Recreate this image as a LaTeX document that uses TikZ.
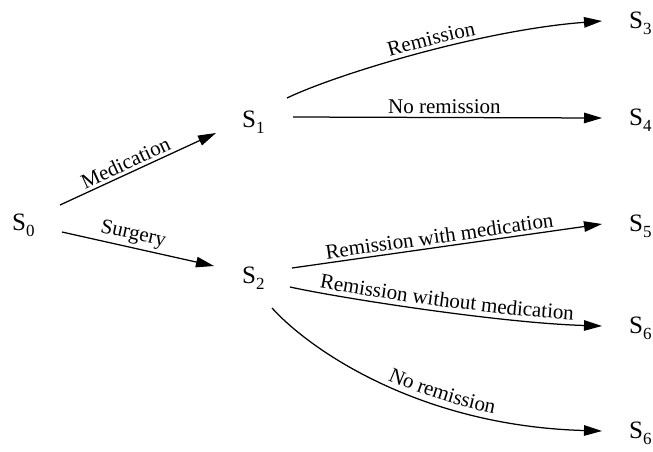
\documentclass[tikz,border=0pt]{standalone}
\usepackage{fontspec}
\setmainfont{Liberation Serif}
\usetikzlibrary{arrows.meta,decorations.text}

\newcommand{\statefont}{\fontsize{25}{25}\selectfont}
\newcommand{\lblfont}{\fontsize{21}{21}\selectfont}
\newcommand{\st}[1]{S\raisebox{-6.5pt}{\fontsize{17}{17}\selectfont #1}}

\tikzset{
  state/.style={font=\statefont, inner sep=0pt, anchor=base west},
  trans/.style={line width=1.25pt, -{Triangle[length=18pt,width=10.5pt]}},
  lbl/.style={font=\lblfont, sloped, above, inner sep=3pt},
  curvelbl/.style 2 args={postaction={decorate}, decoration={text along path,
      text={|\lblfont|#1}, text align={align=center, #2}, raise=5pt}}
}

\begin{document}
\begin{tikzpicture}[x=1pt, y=-1pt]
  \useasboundingbox (0,0) rectangle (653,451);

  % states
  \node[state] (s0) at (12,230) {\st{0}};
  \node[state] (s1) at (242,127) {\st{1}};
  \node[state] (s2) at (242,283) {\st{2}};
  \node[state] (s3) at (629,28)  {\st{3}};
  \node[state] (s4) at (629,125) {\st{4}};
  \node[state] (s5) at (629,231) {\st{5}};
  \node[state] (s6a) at (629,333) {\st{6}};
  \node[state] (s6b) at (629,438) {\st{6}};

  % first decision
  \draw[trans] ([shift={(48,-25)}]s0.base west) -- node[lbl, pos=.45] {Medication}
               ([shift={(-26,6)}]s1.base west);
  \draw[trans] ([shift={(50,2)}]s0.base west) -- node[lbl, pos=.45] {Surgery}
               ([shift={(-28,-17)}]s2.base west);

  % outcomes after medication
  \draw[trans, curvelbl={Remission}{right indent=16pt}] ([shift={(45,-29)}]s1.base west)
       .. controls +(50,-24) and +(-120,9) .. ([shift={(-27,-7)}]s3.base west);
  \draw[trans] ([shift={(51,-10)}]s1.base west) -- node[lbl, pos=.49] {No remission}
               ([shift={(-27,-7)}]s4.base west);

  % outcomes after surgery
  \draw[trans] ([shift={(50,-15)}]s2.base west) -- node[lbl, pos=.48] {Remission with medication}
               ([shift={(-27,-7)}]s5.base west);
  \draw[trans, curvelbl={Remission without medication}{left indent=0pt}] ([shift={(48,4)}]s2.base west)
       .. controls +(50,11) and +(-102,-3) .. ([shift={(-27,-7)}]s6a.base west);
  \draw[trans, curvelbl={No remission}{left indent=28pt}] ([shift={(30,25)}]s2.base west)
       .. controls +(38,42) and +(-182,-5) .. ([shift={(-27,-7)}]s6b.base west);
\end{tikzpicture}
\end{document}
